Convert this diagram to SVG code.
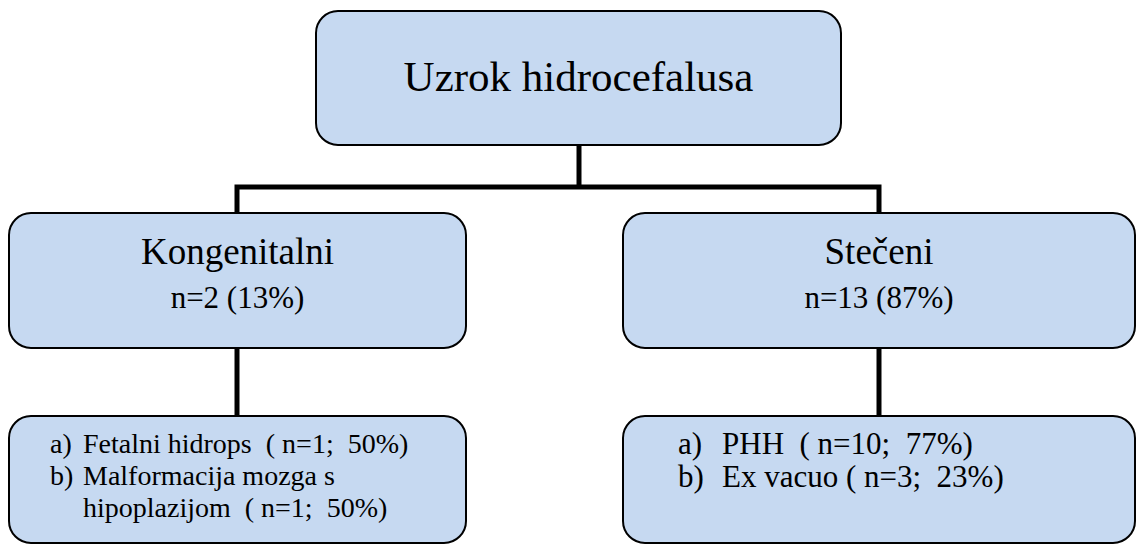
<svg xmlns="http://www.w3.org/2000/svg" width="1138" height="546" viewBox="0 0 1138 546">
<style>
.box{fill:#c6d9f1;stroke:#000;stroke-width:2}
.conn{stroke:#000;stroke-width:5;fill:none}
.t1{font-size:43px}
.t2{font-size:37px}
.t3{font-size:31px}
.t4{font-size:28px;white-space:pre}
.t5{font-size:31px;white-space:pre}
</style>
<rect width="1138" height="546" fill="#fff"/>
<g id="connectors">
<path class="conn" d="M579 145 V187"/>
<path class="conn" d="M237 213 V187 H879 V213"/>
<path class="conn" d="M237 348 V416"/>
<path class="conn" d="M879 348 V416"/>
</g>
<g font-family="Liberation Serif, Times New Roman, Tinos, DejaVu Serif, serif" fill="#000">
<g id="root">
<rect class="box" x="316" y="11" width="525" height="134" rx="22"/>
<text class="t1" x="578.5" y="91" text-anchor="middle">Uzrok hidrocefalusa</text>
</g>
<g id="kongenitalni">
<rect class="box" x="9" y="213" width="457" height="135" rx="22"/>
<text class="t2" x="237.5" y="264" text-anchor="middle">Kongenitalni</text>
<text class="t3" x="237.5" y="308" text-anchor="middle">n=2 (13%)</text>
</g>
<g id="steceni">
<rect class="box" x="623" y="213" width="512" height="135" rx="22"/>
<text class="t2" x="879" y="264" text-anchor="middle">Stečeni</text>
<text class="t3" x="879" y="308" text-anchor="middle">n=13 (87%)</text>
</g>
<g id="kongenitalni-detail">
<rect class="box" x="9" y="416" width="457" height="127" rx="22"/>
<text class="t4" x="50" y="453">a)</text>
<text class="t4" x="83" y="453">Fetalni hidrops  ( n=1;  50%)</text>
<text class="t4" x="50" y="485">b)</text>
<text class="t4" x="83" y="485">Malformacija mozga s</text>
<text class="t4" x="83" y="517">hipoplazijom  ( n=1;  50%)</text>
</g>
<g id="steceni-detail">
<rect class="box" x="623" y="416" width="512" height="127" rx="22"/>
<text class="t5" x="678" y="454">a)</text>
<text class="t5" x="722" y="454">PHH  ( n=10;  77%)</text>
<text class="t5" x="678" y="487">b)</text>
<text class="t5" x="722" y="487">Ex vacuo ( n=3;  23%)</text>
</g>
</g>
</svg>
